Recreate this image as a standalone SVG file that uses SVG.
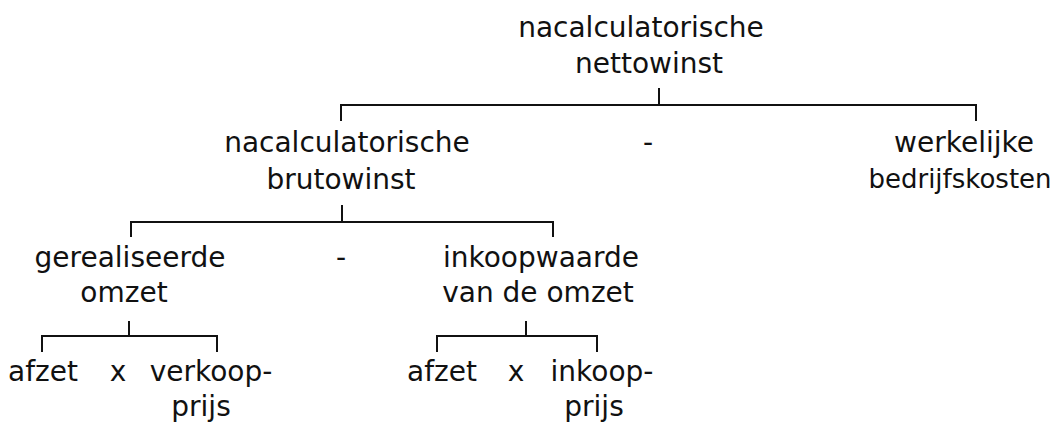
<svg xmlns="http://www.w3.org/2000/svg" width="1062" height="427" viewBox="0 0 1062 427">
  <style>
    .lbl { font-family: "DejaVu Sans", "Noto Sans", sans-serif; font-size: 28px; fill: #111; text-anchor: middle; }
    .narrow { font-size: 26px; }
    .conn { fill: none; stroke: #111; stroke-width: 2; }
  </style>
  <rect width="1062" height="427" fill="#ffffff"/>

  <!-- tree connectors -->
  <g id="connectors" class="conn">
    <path d="M659 88 V105 M341 121 V105 H976 V121"/>
    <path d="M342 205 V222 M131 237 V222 H553 V237"/>
    <path d="M129 321 V336 M42 352 V336 H217 V352"/>
    <path d="M526 321 V336 M437 352 V336 H597 V352"/>
  </g>

  <g id="netto">
    <text class="lbl" x="641" y="37">nacalculatorische</text>
    <text class="lbl" x="649" y="73">nettowinst</text>
  </g>

  <g id="bruto">
    <text class="lbl" x="347" y="152">nacalculatorische</text>
    <text class="lbl" x="341" y="189">brutowinst</text>
  </g>
  <g id="minus1">
    <text class="lbl" x="648" y="152">-</text>
  </g>
  <g id="bedrijfskosten">
    <text class="lbl" x="964" y="152">werkelijke</text>
    <text class="lbl narrow" x="960" y="188">bedrijfskosten</text>
  </g>

  <g id="omzet">
    <text class="lbl" x="130" y="267">gerealiseerde</text>
    <text class="lbl" x="124" y="302">omzet</text>
  </g>
  <g id="minus2">
    <text class="lbl" x="341" y="267">-</text>
  </g>
  <g id="inkoopwaarde">
    <text class="lbl" x="541" y="267">inkoopwaarde</text>
    <text class="lbl" x="538" y="302">van de omzet</text>
  </g>

  <g id="afzet1">
    <text class="lbl" x="43" y="381">afzet</text>
  </g>
  <g id="maal1">
    <text class="lbl" x="118" y="381">x</text>
  </g>
  <g id="verkoopprijs">
    <text class="lbl" x="211" y="381">verkoop-</text>
    <text class="lbl" x="201" y="416">prijs</text>
  </g>

  <g id="afzet2">
    <text class="lbl" x="442" y="381">afzet</text>
  </g>
  <g id="maal2">
    <text class="lbl" x="516" y="381">x</text>
  </g>
  <g id="inkoopprijs">
    <text class="lbl" x="602" y="381">inkoop-</text>
    <text class="lbl" x="594" y="416">prijs</text>
  </g>
</svg>
